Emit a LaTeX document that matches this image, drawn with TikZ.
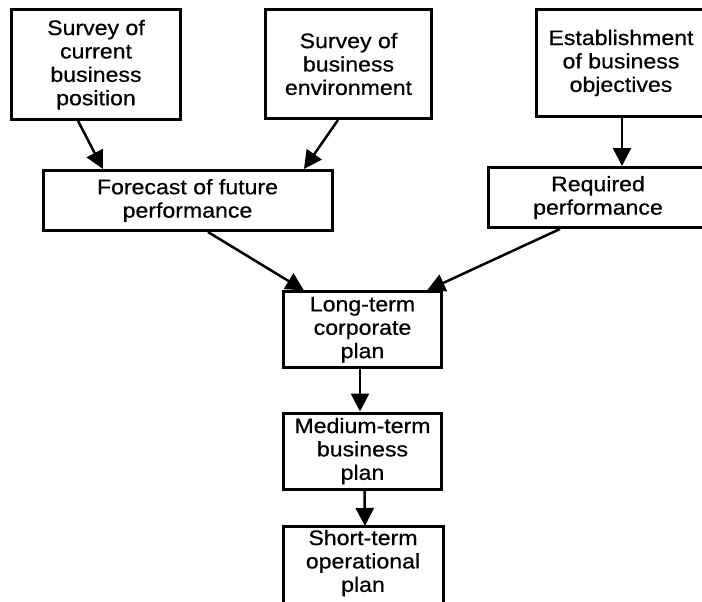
\documentclass[tikz,border=0pt]{standalone}
\usepackage{fontspec}
\setmainfont{Liberation Sans}[FakeStretch=1.1, FakeBold=0.6]
\usetikzlibrary{arrows.meta}
\begin{document}
\begin{tikzpicture}[x=1pt,y=-1pt,
  stage/.style={draw=black, line width=3pt, fill=white, rectangle, align=center,
    inner sep=1pt, font=\fontsize{21}{23.4}\selectfont},
  openstage/.style={stage, draw=none},
  flow/.style={line width=2.5pt, -{Triangle[length=18pt,width=18pt]}}]
\useasboundingbox (0,0) rectangle (702,602);
\clip (0,0) rectangle (702,602);

% planning inputs
\node[stage, minimum width=169pt, minimum height=109.5pt] (pos) at (96,64.7)
  {Survey of\\current\\business\\position};
\node[stage, minimum width=166pt, minimum height=109pt] (env) at (348.5,64)
  {Survey of\\business\\environment};
\node[stage, minimum width=170pt, minimum height=107pt] (obj) at (621,63)
  {Establishment\\of business\\objectives};

% performance comparison
\node[stage, minimum width=289pt, minimum height=60pt] (fore) at (187.5,200.5)
  {Forecast of future\\performance};
\node[stage, minimum width=220pt, minimum height=60pt] (req) at (598,197.5)
  {Required\\performance};

% plan hierarchy
\node[stage, minimum width=158pt, minimum height=75.5pt] (long) at (362.5,329.7)
  {Long-term\\corporate\\plan};
\node[stage, minimum width=158pt, minimum height=76pt] (medium) at (362.5,451)
  {Medium-term\\business\\plan};
\node[openstage, minimum width=157pt, minimum height=71pt] (short) at (363,563)
  {Short-term\\operational\\plan};
\draw[line width=3pt]
  ([yshift=-60pt]short.south west) -- (short.north west) -- (short.north east)
  -- ([yshift=-60pt]short.south east);

% connectors
\draw[flow] ([xshift=-18pt]pos.south) -- ([xshift=-84.5pt]fore.north);
\draw[flow] ([xshift=-10.5pt]env.south) -- ([xshift=116.5pt]fore.north);
\draw[flow] ([xshift=1pt]obj.south) -- ([xshift=24pt]req.north);
\draw[flow] ([xshift=20.5pt]fore.south) -- ([xshift=-58.5pt]long.north);
\draw[flow] ([xshift=-38pt]req.south) -- ([xshift=64.5pt]long.north);
\draw[flow] ([xshift=-2.5pt]long.south) -- ([xshift=-2.5pt]medium.north);
\draw[flow] ([xshift=2pt]medium.south) -- ([xshift=2pt]short.north);
\end{tikzpicture}
\end{document}
